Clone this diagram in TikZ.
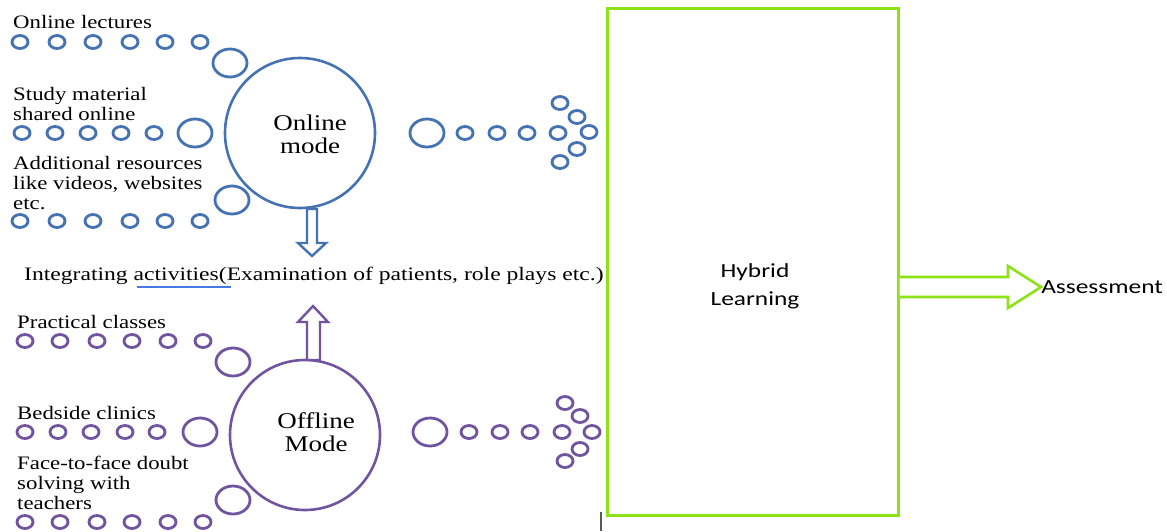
\documentclass[tikz,border=0pt]{standalone}
\usepackage{fontspec}
\setmainfont{Liberation Serif}
\newfontfamily\calib{Carlito}
\definecolor{onl}{RGB}{68,114,178}
\definecolor{ofl}{RGB}{112,84,160}
\definecolor{lime}{RGB}{140,226,20}
\definecolor{spell}{RGB}{70,120,230}
\begin{document}
\begin{tikzpicture}[x=1pt,y=-1pt,
  txt/.style={font=\fontsize{19}{20}\selectfont, xscale=1.2, transform shape, align=left, inner sep=0pt, anchor=west},
  ctxt/.style={font=\fontsize{22.5}{23}\selectfont, xscale=1.2, transform shape, align=center, inner sep=0pt},
  sans/.style={font=\calib\fontsize{20}{28}\selectfont, xscale=1.27, transform shape, align=center, inner sep=0pt},
  sm/.style={line width=2.8pt},
  big/.style={circle, minimum size=150pt, inner sep=0pt, line width=2.6pt},
  fat/.style={line width=2.4pt, fill=white},
]
\useasboundingbox (0,0) rectangle (1167,531);
% ---------- Online mode ----------
\node[big, draw=onl] (online) at (300,133) {};
\node[ctxt] (onlinelbl) at (310,134) {Online\\mode};
\begin{scope}[sm]
  \foreach \x in {20,57,93,130,165,200} \draw[onl] (\x,42) ellipse (8 and 6.5);
  \draw[onl] (230,63) ellipse (17 and 14);
  \foreach \x in {22,55,88,121,154} \draw[onl] (\x,133) ellipse (8 and 6.5);
  \draw[onl] (195,133) ellipse (17 and 14);
  \draw[onl] (232,200) ellipse (17 and 14);
  \foreach \x in {20,57,93,130,165,200} \draw[onl] (\x,221) ellipse (8 and 6.5);
  % right side
  \draw[onl] (427,133) ellipse (17 and 14);
  \foreach \x in {465,497,527,558} \draw[onl] (\x,133) ellipse (8 and 6.5);
  \foreach \p in {(560,103),(577,117),(589,132),(577,149),(560,162)} \draw[onl] \p ellipse (8 and 6.5);
\end{scope}
\node[txt] (t1) at (13,22) {Online lectures};
\node[txt] (t2) at (13,104) {Study material\\shared online};
\node[txt] (t3) at (13,183) {Additional resources\\like videos, websites\\etc.};
% ---------- Offline mode ----------
\node[big, draw=ofl] (offline) at (305,435) {};
\node[ctxt] (offlinelbl) at (316,432) {Offline\\Mode};
\begin{scope}[sm]
  \foreach \x in {25,60,97,132,168,203} \draw[ofl] (\x,341) ellipse (8 and 6.5);
  \draw[ofl] (233,362) ellipse (17 and 14);
  \foreach \x in {25,58,91,125,157} \draw[ofl] (\x,432) ellipse (8 and 6.5);
  \draw[ofl] (200,432) ellipse (17 and 14);
  \draw[ofl] (233,500) ellipse (17 and 14);
  \foreach \x in {25,60,97,132,168,203} \draw[ofl] (\x,522) ellipse (8 and 6.5);
  % right side
  \draw[ofl] (430,432) ellipse (17 and 14);
  \foreach \x in {469,500,530,562} \draw[ofl] (\x,432) ellipse (8 and 6.5);
  \foreach \p in {(565,403),(580,416),(592,432),(580,449),(565,461)} \draw[ofl] \p ellipse (8 and 6.5);
\end{scope}
\node[txt] (t4) at (17,322) {Practical classes};
\node[txt] (t5) at (17,413) {Bedside clinics};
\node[txt] (t6) at (17,483) {Face-to-face doubt\\solving with\\teachers};
% ---------- Integrating ----------
\node[txt, xscale=1.035] (integ) at (24,276) {Integrating activities(Examination of patients, role plays etc.)};
\draw[spell, line width=1.3pt] (137,287) -- (231,287);
% down arrow (online -> integrating)
\draw[onl, fat] (307,209) -- (317,209) -- (317,243) -- (326,243) -- (312,256) -- (298,243) -- (307,243) -- cycle;
% up arrow (offline -> integrating)
\draw[ofl, fat] (307,360) -- (320,360) -- (320,322) -- (328,322) -- (313,306) -- (298,322) -- (307,322) -- cycle;
% ---------- Hybrid learning ----------
\node[draw=lime, line width=3pt, minimum width=291pt, minimum height=507pt, inner sep=0pt] (hybrid) at (752.5,261.5) {};
\node[sans] (hyblbl) at (755,286) {Hybrid\\Learning};
\node[sans, anchor=west] (assess) at (1041,287) {Assessment};
\draw[lime, line width=2.6pt, fill=white] (hybrid.east |- 0,277) -- (1008,277) -- (1008,266) -- (assess.west) -- (1008,308) -- (1008,297) -- (hybrid.east |- 0,297);
% cursor mark
\draw[gray!70!black, line width=1.3pt] (601,512) -- (601,531);
\end{tikzpicture}
\end{document}
